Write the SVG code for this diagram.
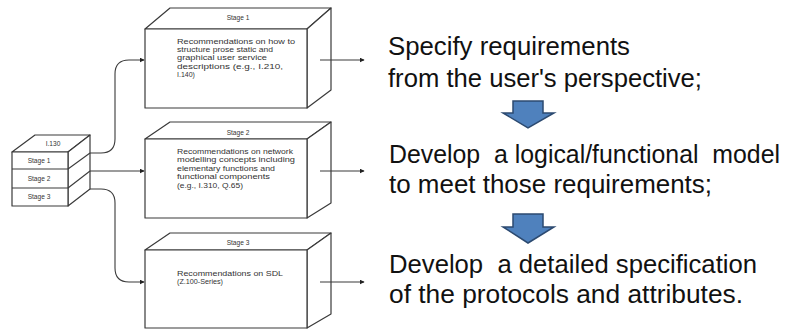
<svg xmlns="http://www.w3.org/2000/svg" width="792" height="329" viewBox="0 0 792 329">
<defs>
<style>
.box{fill:#fff;stroke:#3a3a3a;stroke-width:1.2;stroke-linejoin:round}
.conn{fill:none;stroke:#3a3a3a;stroke-width:1.1}
.small{font-family:"Liberation Sans",Arial,sans-serif;font-size:7px;fill:#333}
.lbl{font-family:"Liberation Sans",Arial,sans-serif;font-size:6.6px;fill:#333;text-anchor:middle}
.big{font-family:"Liberation Sans",Arial,sans-serif;font-size:25px;fill:#111}
.blue{fill:#4F81BD;stroke:#2c4a70;stroke-width:1.5;stroke-linejoin:miter}
</style>
<marker id="ah" viewBox="0 0 8 8" refX="7" refY="4" markerWidth="5" markerHeight="5" orient="auto" markerUnits="userSpaceOnUse">
<path d="M0,0 L8,4 L0,8 Z" fill="#222"/>
</marker>
</defs>
<rect width="792" height="329" fill="#fff"/>

<g id="i130">
<path class="box" d="M12,152 L35,135 L90,135 L68,152 Z"/>
<path class="box" d="M68,152 L90,135 L90,189 L68,206 Z"/>
<rect class="box" x="12" y="152" width="56" height="54"/>
<line class="conn" x1="12" y1="169" x2="68" y2="169"/>
<line class="conn" x1="12" y1="188" x2="68" y2="188"/>
<line class="conn" x1="68" y1="169" x2="90" y2="153"/>
<line class="conn" x1="68" y1="188" x2="90" y2="171"/>
<text class="lbl" x="53" y="146">I.130</text>
<text class="lbl" x="39" y="163">Stage 1</text>
<text class="lbl" x="39" y="181">Stage 2</text>
<text class="lbl" x="39" y="199">Stage 3</text>
</g>

<g id="stage1">
<path class="box" d="M145,29 L170,8 L331,8 L307,29 Z"/>
<path class="box" d="M307,29 L331,8 L331,90 L307,108 Z"/>
<rect class="box" x="145" y="29" width="162" height="79"/>
<text class="lbl" x="238" y="20">Stage 1</text>
<text class="small" x="177" y="44" textLength="118" lengthAdjust="spacingAndGlyphs">Recommendations on how to</text>
<text class="small" x="177" y="52" textLength="96" lengthAdjust="spacingAndGlyphs">structure prose static and</text>
<text class="small" x="177" y="60" textLength="90" lengthAdjust="spacingAndGlyphs">graphical user service</text>
<text class="small" x="177" y="69" textLength="106" lengthAdjust="spacingAndGlyphs">descriptions (e.g., I.210,</text>
<text class="small" x="177" y="77">I.140)</text>
</g>

<g id="stage2">
<path class="box" d="M145,139 L170,122 L331,122 L307,139 Z"/>
<path class="box" d="M307,139 L331,122 L331,203 L307,218 Z"/>
<rect class="box" x="145" y="139" width="162" height="79"/>
<text class="lbl" x="238" y="135">Stage 2</text>
<text class="small" x="177" y="154" textLength="116" lengthAdjust="spacingAndGlyphs">Recommendations on network</text>
<text class="small" x="177" y="162" textLength="118" lengthAdjust="spacingAndGlyphs">modelling concepts including</text>
<text class="small" x="177" y="171" textLength="98" lengthAdjust="spacingAndGlyphs">elementary functions and</text>
<text class="small" x="177" y="179" textLength="93" lengthAdjust="spacingAndGlyphs">functional components</text>
<text class="small" x="177" y="188" textLength="66" lengthAdjust="spacingAndGlyphs">(e.g., I.310, Q.65)</text>
</g>

<g id="stage3">
<path class="box" d="M145,250 L170,233 L331,233 L307,250 Z"/>
<path class="box" d="M307,250 L331,233 L331,314 L307,328 Z"/>
<rect class="box" x="145" y="250" width="162" height="78"/>
<text class="lbl" x="238" y="245">Stage 3</text>
<text class="small" x="177" y="276" textLength="106" lengthAdjust="spacingAndGlyphs">Recommendations on SDL</text>
<text class="small" x="177" y="284" textLength="46" lengthAdjust="spacingAndGlyphs">(Z.100-Series)</text>
</g>

<g id="connectors">
<path class="conn" marker-end="url(#ah)" d="M90,153 H101 Q115,153 115,139 V74 Q115,60 129,60 H144"/>
<path class="conn" marker-end="url(#ah)" d="M90,171 H144"/>
<path class="conn" marker-end="url(#ah)" d="M90,189 H101 Q115,189 115,203 V268 Q115,282 129,282 H144"/>
<path class="conn" marker-end="url(#ah)" d="M320,60 H364"/>
<path class="conn" marker-end="url(#ah)" d="M320,171 H364"/>
<path class="conn" marker-end="url(#ah)" d="M320,282 H364"/>
</g>

<g id="arrow1">
<path class="blue" d="M513,101 H543 V113 H554 L528,128 L503,113 H513 Z"/>
</g>
<g id="arrow2">
<path class="blue" d="M513,214 H543 V227 H554 L528,243 L503,227 H513 Z"/>
</g>

<g id="text-steps">
<text class="big" x="388" y="55" textLength="242" lengthAdjust="spacingAndGlyphs">Specify requirements</text>
<text class="big" x="388" y="87" textLength="314" lengthAdjust="spacingAndGlyphs">from the user's perspective;</text>
<text class="big" x="389" y="163" textLength="391" lengthAdjust="spacingAndGlyphs" xml:space="preserve">Develop  a logical/functional  model</text>
<text class="big" x="389" y="193" textLength="323" lengthAdjust="spacingAndGlyphs">to meet those requirements;</text>
<text class="big" x="389" y="273" textLength="368" lengthAdjust="spacingAndGlyphs" xml:space="preserve">Develop  a detailed specification</text>
<text class="big" x="389" y="303" textLength="354" lengthAdjust="spacingAndGlyphs">of the protocols and attributes.</text>
</g>
</svg>
